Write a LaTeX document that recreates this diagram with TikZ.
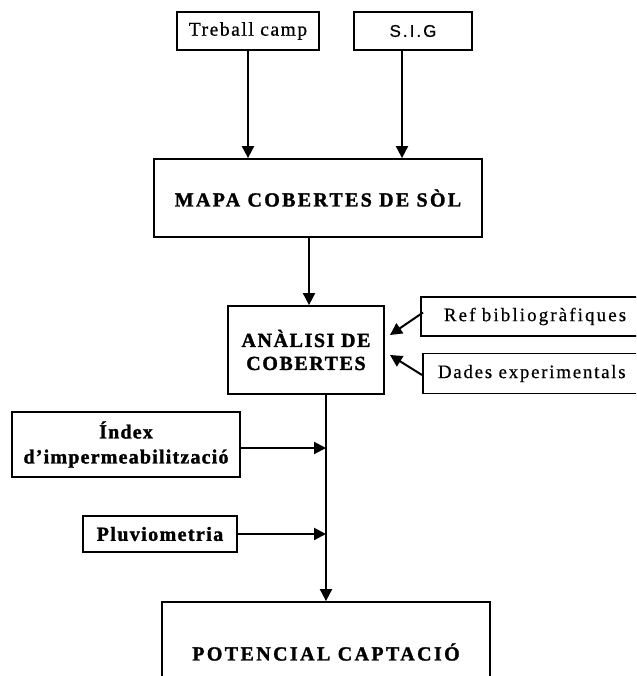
\documentclass[tikz,border=0pt]{standalone}
\usepackage{fontspec}
\setmainfont{Liberation Serif}
\newfontfamily\sigfont{Liberation Sans}
% letter-spaced, slightly heavier text
\newcommand{\spaced}[2]{\addfontfeatures{LetterSpace=#1,FakeBold=#2}}
\usetikzlibrary{arrows.meta,calc}
\tikzset{
  box/.style={draw, line width=1.8pt, inner sep=0pt, align=center, text=black},
  link/.style={line width=2pt, -{Triangle[length=12pt,width=12pt]}},
}
\begin{document}
\begin{tikzpicture}[x=1pt,y=-1pt]
\useasboundingbox (0,0) rectangle (636,676);
\clip (0,0) rectangle (636,676);
% source boxes
\node[box, minimum width=142pt, minimum height=38pt, font=\fontsize{19.5}{21}\selectfont\spaced{8}{0.8}] (treball) at (248,31) {Treball camp};
\node[box, minimum width=118pt, minimum height=38pt, font=\sigfont\fontsize{17}{19}\selectfont\spaced{12}{0.5}] (sig) at (413,31) {S.I.G};
% land cover map
\node[box, minimum width=328pt, minimum height=78pt, font=\bfseries\fontsize{20}{22}\selectfont\spaced{11.5}{1.5}] (mapa) at (318,198) {MAPA COBERTES DE SÒL};
% cover analysis
\node[box, minimum width=156pt, minimum height=88pt, font=\bfseries\fontsize{20}{23}\selectfont\spaced{8}{1.5}] (analisi) at (306,350) {ANÀLISI DE\\COBERTES};
% side inputs
\node[box, anchor=west, text width=194pt, inner xsep=23pt, align=left, minimum height=39pt, font=\fontsize{19}{21}\selectfont\spaced{11}{0.5}] (ref) at (420,316.5) {Ref bibliogràfiques};
\node[box, anchor=west, text width=210pt, inner xsep=15pt, align=left, minimum height=40pt, font=\fontsize{19}{21}\selectfont\spaced{9}{0.5}] (dades) at (422,373.5) {Dades experimentals};
\node[box, minimum width=228pt, minimum height=65pt, font=\bfseries\fontsize{20}{25}\selectfont\spaced{6}{1.5}] (index) at (126,444.5) {Índex\\d’impermeabilització};
\node[box, minimum width=154pt, minimum height=36pt, font=\bfseries\fontsize{20}{22}\selectfont\spaced{7}{1.5}] (pluvio) at (160,534) {Pluviometria};
% result
\node[box, minimum width=328pt, minimum height=100pt, font=\bfseries\fontsize{20}{22}\selectfont\spaced{12}{1.5}] (potencial) at (326,652) {POTENCIAL CAPTACIÓ};
% tips of the side arrows
\coordinate (refTip) at (390,335);
\coordinate (dadesTip) at (390,355);
% connectors
\draw[link] (treball.south) -- (treball.south |- mapa.north);
\draw[link] ([xshift=-11pt]sig.south) -- ([xshift=-11pt]sig.south |- mapa.north);
\draw[link] ([xshift=3pt]analisi.north |- mapa.south) -- ([xshift=3pt]analisi.north);
\draw[link] ($(ref.west)+(3,-4)$) -- (refTip);
\draw[link] ($(dades.west)+(0,1.5)$) -- (dadesTip);
\draw[link] (analisi.south -| potencial.north) -- (potencial.north);
\draw[link] (index.east |- 0,448) -- (potencial.north |- 0,448);
\draw[link] (pluvio.east) -- (pluvio.east -| potencial.north);
\end{tikzpicture}
\end{document}
